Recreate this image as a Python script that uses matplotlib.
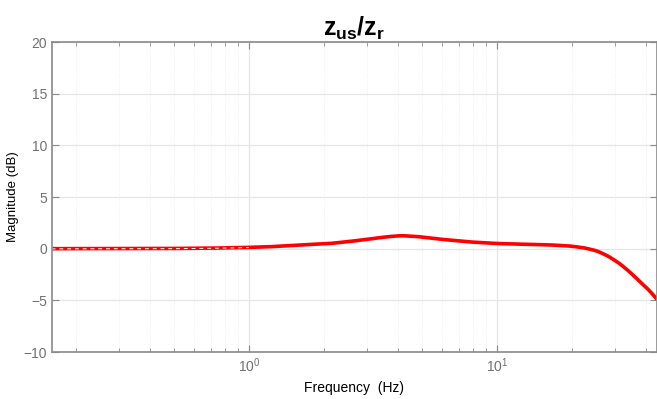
import numpy as np
import matplotlib
matplotlib.use('Agg')
import matplotlib.pyplot as plt
from matplotlib.ticker import LogLocator, NullFormatter

plt.rcParams['font.family'] = ['Liberation Sans', 'DejaVu Sans']
plt.rcParams['mathtext.fontset'] = 'custom'
plt.rcParams['mathtext.bf'] = 'Liberation Sans:bold'
plt.rcParams['mathtext.rm'] = 'Liberation Sans'
plt.rcParams['mathtext.it'] = 'Liberation Sans:italic'

# magnitude (Hz, dB)
freq = [0.16, 0.3, 0.5, 0.7, 0.92, 1.2, 1.46, 1.8, 2.12, 2.6, 3.2, 3.7, 4.13,
        4.8, 5.89, 7.78, 10.0, 13.0, 16.5, 19.7, 22.5, 25.2, 28.0, 31.3, 34.5,
        37.7, 41.0, 44.2]
mag = [0.0, 0.01, 0.02, 0.05, 0.1, 0.18, 0.3, 0.42, 0.5, 0.72, 1.0, 1.18, 1.26,
       1.17, 0.92, 0.65, 0.5, 0.42, 0.36, 0.26, 0.08, -0.2, -0.7, -1.45, -2.3,
       -3.2, -4.0, -4.9]

# smooth the trace in log-frequency for drawing
lf = np.log10(freq)
lf_fine = np.linspace(lf[0], lf[-1], 400)
mag_fine = np.interp(lf_fine, lf, mag)
k = np.ones(5) / 5
mag_smooth = np.convolve(np.pad(mag_fine, 2, mode='edge'), k, mode='valid')
mag_smooth[-3:] = mag_fine[-3:]
f_fine = 10 ** lf_fine

fig = plt.figure(figsize=(6.57, 3.99), dpi=100)
ax = fig.add_axes([52/657, 47/399, 1 - 52/657, 310/399])

ax.semilogx(f_fine, mag_smooth, color='#ff0000', lw=2.6, solid_capstyle='butt')
# dashed trace drawn over the low-frequency part
m = f_fine < 1.0
ax.semilogx(f_fine[m], mag_smooth[m] - 0.02, color='white', lw=0.7, ls=(0, (4, 4)))

ax.set_xlim(0.1606, 44.2)
ax.set_ylim(-10, 20)
ax.set_yticks(range(-10, 21, 5))
ax.xaxis.set_major_locator(LogLocator(base=10))
ax.xaxis.set_minor_locator(LogLocator(base=10, subs=np.arange(2, 10)))
ax.xaxis.set_minor_formatter(NullFormatter())

ax.grid(True, which='major', color='#e6e6e6', lw=0.9)
ax.grid(True, which='minor', color='#ececec', lw=0.6, ls=':')
ax.set_axisbelow(True)

for s in ax.spines.values():
    s.set_color('#8a8a8a')
    s.set_linewidth(1.2)
ax.tick_params(which='both', direction='in', top=True, right=True,
               colors='#8a8a8a', labelcolor='#707070', labelsize=10)
ax.tick_params(which='major', length=5)
ax.tick_params(which='minor', length=3)

ax.set_xlabel('Frequency  (Hz)', fontsize=10, labelpad=4)
ax.set_ylabel('Magnitude (dB)', fontsize=9.5, labelpad=3)
ax.set_title(r'$\mathbf{z_{us}/z_r}$', fontsize=18, pad=3)

fig.savefig('out.png', dpi=100)
